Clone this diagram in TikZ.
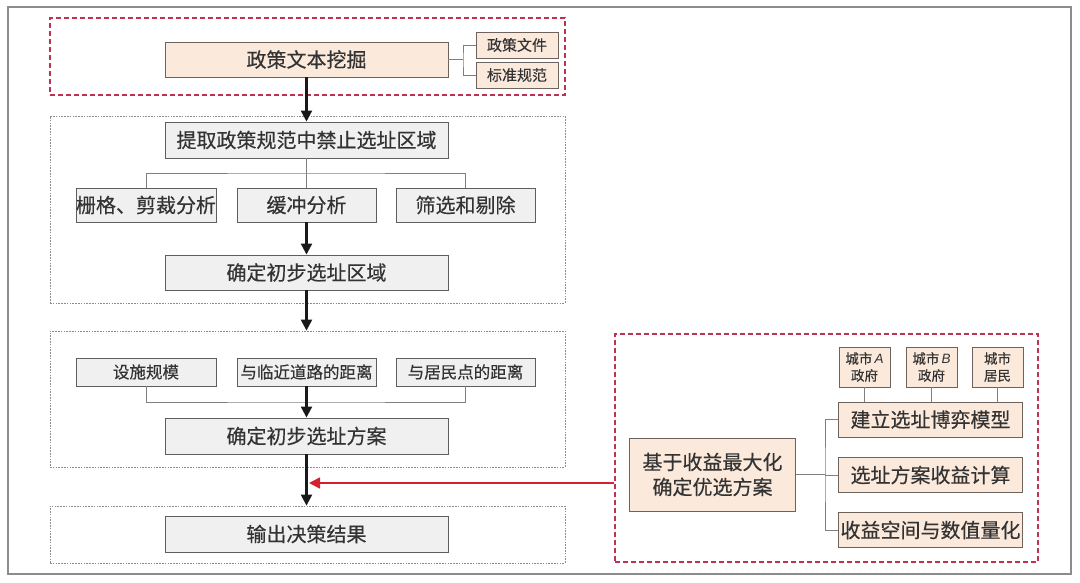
\documentclass[tikz,border=0pt]{standalone}
\usepackage{fontspec}
\usetikzlibrary{arrows.meta}
\newfontfamily\cjk[FakeBold=0.35]{Noto Sans CJK SC}
\newfontfamily\latin{Liberation Sans}
\definecolor{peach}{HTML}{FBE9DC}
\definecolor{pborder}{HTML}{6E625C}
\definecolor{gfill}{HTML}{F0F0F0}
\definecolor{gborder}{HTML}{5E5E5E}
\definecolor{redc}{HTML}{BE3150}
\definecolor{reda}{HTML}{D3222F}
\definecolor{txt}{HTML}{333333}
\definecolor{conc}{HTML}{808080}
\definecolor{framec}{HTML}{8C8C8C}
\tikzset{
  x=1pt, y=-1pt,
  basebox/.style={inner sep=0pt, line width=0.9pt, text=txt, align=center},
  pbox/.style={basebox, draw=pborder, fill=peach, font=\cjk\fontsize{20}{24}\selectfont},
  gbox/.style={basebox, draw=gborder, fill=gfill, font=\cjk\fontsize{20}{24}\selectfont},
  smallp/.style={pbox, font=\cjk\fontsize{15}{18}\selectfont},
  tinyp/.style={pbox, font=\cjk\fontsize{13.5}{17}\selectfont},
  mids/.style={gbox, font=\cjk\fontsize{16.5}{20}\selectfont},
  redframe/.style={draw=redc, line width=1.3pt, dash pattern=on 5pt off 3pt, inner sep=0pt},
  grayframe/.style={draw=framec, line width=0.8pt, dash pattern=on 1.6pt off 1.2pt, inner sep=0pt},
  conn/.style={draw=conc, line width=1pt},
  arr/.style={draw=black!90, line width=2.2pt, -{Triangle[length=11pt,width=11pt]}},
  redarr/.style={draw=reda, line width=1.7pt, -{Triangle[length=11pt,width=11pt]}},
}
\begin{document}
\begin{tikzpicture}
\useasboundingbox (0,0) rectangle (1080,582);
\fill[white] (0,0) rectangle (1080,582);
% outer frame
\draw[framec, line width=1.5pt] (8,7) rectangle (1071,574);

% frames
\node[redframe, minimum width=515, minimum height=77] (f1) at (307.5,56.5) {};
\node[grayframe, minimum width=515, minimum height=187] (f2) at (307.5,209.5) {};
\node[grayframe, minimum width=515, minimum height=136] (f3) at (307.5,399) {};
\node[grayframe, minimum width=515, minimum height=57] (f4) at (307.5,534.5) {};
\node[redframe, minimum width=423, minimum height=228] (rf) at (826.5,448) {};

% top block
\node[pbox, minimum width=283, minimum height=35] (mine) at (306.5,59.5) {政策文本挖掘};
\node[smallp, minimum width=82, minimum height=26] (doc) at (517,45) {政策文件};
\node[smallp, minimum width=82, minimum height=26] (std) at (517,75) {标准规范};
\coordinate (tj) at (463,59.5);
\draw[conn] (mine.east) -- (tj);
\draw[conn] (doc.west) -| (tj) |- (std.west);

% block 2
\node[gbox, minimum width=283, minimum height=36] (extract) at (306.5,140) {提取政策规范中禁止选址区域};
\node[gbox, minimum width=140, minimum height=34] (grid) at (146,205) {栅格、剪裁分析};
\node[gbox, minimum width=139, minimum height=34] (buffer) at (306.5,205) {缓冲分析};
\node[gbox, minimum width=139, minimum height=34] (filter) at (465.5,205) {筛选和剔除};
\node[gbox, minimum width=283, minimum height=35] (area) at (306.5,272.5) {确定初步选址区域};
\coordinate (bar) at (306.5,173);
\draw[conn] (extract.south) -- (buffer.north);
\draw[conn] (grid.north) |- (bar) -| (filter.north);
\draw[arr] (mine.south) -- (extract.north);
\draw[arr] (buffer.south) -- (area.north);

% block 3
\node[mids, minimum width=140, minimum height=28] (scale) at (146,372) {设施规模};
\node[mids, minimum width=139, minimum height=28] (road) at (306.5,372) {与临近道路的距离};
\node[mids, minimum width=139, minimum height=28] (resid) at (465.5,372) {与居民点的距离};
\node[gbox, minimum width=283, minimum height=36] (plan) at (306.5,436) {确定初步选址方案};
\coordinate (join) at (306.5,402);
\draw[conn] (scale.south) |- (join) -| (resid.south);
\draw[arr] (area.south) -- (area.south |- f3.north);
\draw[arr] (road.south) -- (plan.north);

% block 4
\node[gbox, minimum width=283, minimum height=36] (out) at (306.5,534) {输出决策结果};
\draw[arr] (plan.south) -- (plan.south |- f4.north);

% right block
\node[pbox, minimum width=166, minimum height=73] (max) at (712.5,474.5) {基于收益最大化\\[1pt]确定优选方案};
\node[pbox, minimum width=184, minimum height=35] (game) at (930.5,419.5) {建立选址博弈模型};
\node[pbox, minimum width=184, minimum height=35] (calc) at (930.5,475) {选址方案收益计算};
\node[pbox, minimum width=184, minimum height=35] (space) at (930.5,530) {收益空间与数值量化};
\node[tinyp, minimum width=51, minimum height=40] (cA) at (864.5,367) {城市{\latin\itshape\,A}\\政府};
\node[tinyp, minimum width=51, minimum height=40] (cB) at (931.5,367) {城市{\latin\itshape\,B}\\政府};
\node[tinyp, minimum width=51, minimum height=40] (cR) at (997.5,367) {城市\\居民};
\draw[conn] (cA.south) -- (cA.south |- game.north);
\draw[conn] (cB.south) -- (cB.south |- game.north);
\draw[conn] (cR.south) -- (cR.south |- game.north);
\coordinate (rj) at (825,474.5);
\draw[conn] (max.east) -- (rj);
\draw[conn] (game.west) -| (rj) |- (space.west);
\draw[conn] (rj |- calc.west) -- (calc.west);

% red arrow
\coordinate (redtip) at (309,483);
\draw[redarr] (rf.west |- redtip) -- (redtip);
\end{tikzpicture}
\end{document}
